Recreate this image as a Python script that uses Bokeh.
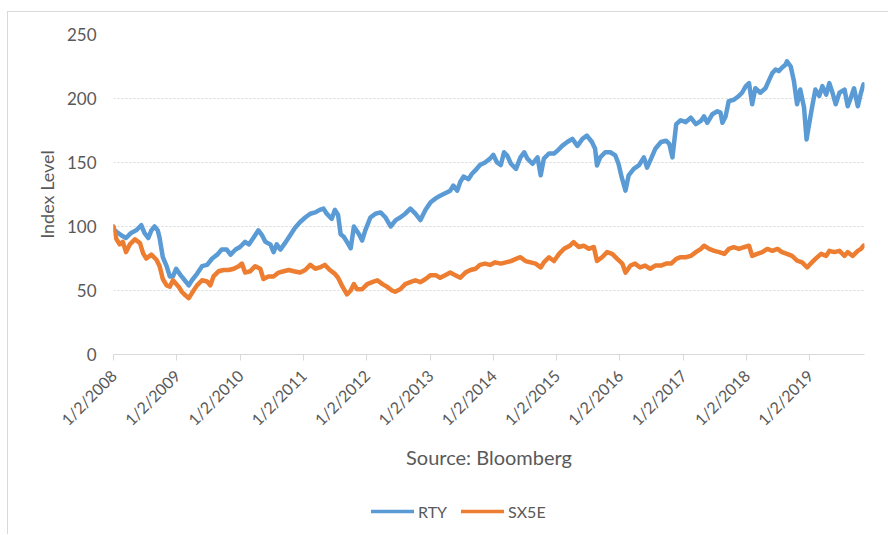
from datetime import datetime
from bokeh.plotting import figure
from bokeh.layouts import column
from bokeh.models import (Range1d, FixedTicker, CustomJSTickFormatter, Legend,
                          LegendItem, ColumnDataSource)
from bokeh.embed import file_html
from bokeh.resources import INLINE
import math

# ---- data (time as decimal year) ----
rty_t = [2008.00, 2008.02, 2008.13, 2008.20, 2008.28, 2008.36, 2008.44, 2008.49, 2008.55, 2008.60,
         2008.65, 2008.70, 2008.73, 2008.78, 2008.84, 2008.89, 2008.94, 2008.99, 2009.06, 2009.11,
         2009.19, 2009.24, 2009.32, 2009.40, 2009.48, 2009.56, 2009.64, 2009.71, 2009.79, 2009.85,
         2009.93, 2010.00, 2010.08, 2010.14, 2010.21, 2010.29, 2010.35, 2010.40, 2010.48, 2010.53,
         2010.58, 2010.64, 2010.71, 2010.79, 2010.87, 2010.95, 2011.03, 2011.11, 2011.19, 2011.26,
         2011.32, 2011.37, 2011.45, 2011.50, 2011.55, 2011.59, 2011.64, 2011.69, 2011.75, 2011.80,
         2011.88, 2011.93, 2011.98, 2012.06, 2012.14, 2012.22, 2012.30, 2012.38, 2012.46, 2012.53,
         2012.61, 2012.69, 2012.77, 2012.85, 2012.93, 2013.01, 2013.09, 2013.16, 2013.24, 2013.32,
         2013.37, 2013.43, 2013.48, 2013.53, 2013.61, 2013.66, 2013.72, 2013.79, 2013.87, 2013.95,
         2014.00, 2014.06, 2014.12, 2014.17, 2014.22, 2014.28, 2014.36, 2014.43, 2014.49, 2014.54,
         2014.62, 2014.70, 2014.75, 2014.80, 2014.88, 2014.96, 2015.01, 2015.09, 2015.17, 2015.25,
         2015.33, 2015.41, 2015.48, 2015.56, 2015.61, 2015.64, 2015.69, 2015.77, 2015.85, 2015.93,
         2015.98, 2016.03, 2016.09, 2016.14, 2016.22, 2016.30, 2016.38, 2016.43, 2016.48, 2016.56,
         2016.65, 2016.73, 2016.78, 2016.83, 2016.89, 2016.96, 2017.04, 2017.12, 2017.20, 2017.28,
         2017.33, 2017.38, 2017.46, 2017.54, 2017.59, 2017.62, 2017.67, 2017.72, 2017.80, 2017.88,
         2017.93, 2017.99, 2018.04, 2018.09, 2018.14, 2018.22, 2018.30, 2018.35, 2018.41, 2018.46,
         2018.51, 2018.56, 2018.62, 2018.64, 2018.70, 2018.75, 2018.80, 2018.85, 2018.91, 2018.95,
         2018.98, 2019.04, 2019.09, 2019.15, 2019.20, 2019.26, 2019.31, 2019.36, 2019.41, 2019.47,
         2019.55, 2019.60, 2019.65, 2019.70, 2019.76, 2019.81, 2019.85]
rty_v = [100, 97, 93, 91, 95, 97, 101, 95, 91, 97,
         100, 97, 91, 76, 69, 61, 61, 67, 62, 59,
         54, 58, 63, 69, 70, 75, 78, 82, 82, 78,
         82, 84, 88, 86, 91, 97, 93, 88, 86, 80,
         86, 82, 87, 93, 99, 103.5, 107, 110, 111, 113,
         114, 110, 106, 113, 109, 94, 92, 88, 83, 100,
         94, 89, 97, 107, 110, 111, 107, 100, 105, 107,
         110, 114, 110, 105, 113, 119, 122, 124, 126, 128,
         132, 128, 135, 139, 137, 141, 144, 148, 150, 153,
         156, 150, 148, 158, 155.5, 149, 145, 154, 158, 153,
         149, 154, 140, 153, 157, 157, 159, 163, 166, 168.5,
         163, 168.5, 171, 166, 160.7, 147.7, 154, 158, 158, 155.5,
         149, 138.5, 128, 140, 145, 147.7, 154, 146, 151.5, 160.7,
         166, 167, 164.6, 154, 180, 183, 181.5, 185, 180, 182.5,
         186, 181, 187.7, 190, 189, 181, 186, 198, 199, 202,
         204.5, 209.7, 212, 195.5, 208, 204.5, 208, 213.6, 220, 222.7,
         221.4, 224, 226.6, 229, 225, 213.6, 195.5, 207, 193, 168,
         177, 194, 207, 202, 209.7, 203, 212, 204.5, 195.5, 204.5,
         207, 194, 200.6, 208, 194, 204.5, 211]

sx5e_t = [2008.00, 2008.05, 2008.10, 2008.15, 2008.20, 2008.26, 2008.34, 2008.42, 2008.47, 2008.52,
          2008.60, 2008.68, 2008.73, 2008.78, 2008.84, 2008.89, 2008.94, 2009.03, 2009.08, 2009.14,
          2009.19, 2009.24, 2009.32, 2009.40, 2009.48, 2009.53, 2009.58, 2009.66, 2009.74, 2009.82,
          2009.90, 2009.98, 2010.03, 2010.08, 2010.16, 2010.24, 2010.32, 2010.37, 2010.45, 2010.53,
          2010.61, 2010.69, 2010.77, 2010.85, 2010.95, 2011.03, 2011.11, 2011.19, 2011.26, 2011.34,
          2011.42, 2011.50, 2011.55, 2011.62, 2011.69, 2011.75, 2011.80, 2011.85, 2011.93, 2012.01,
          2012.09, 2012.17, 2012.25, 2012.32, 2012.40, 2012.45, 2012.53, 2012.61, 2012.69, 2012.77,
          2012.85, 2012.93, 2013.01, 2013.09, 2013.16, 2013.24, 2013.32, 2013.40, 2013.48, 2013.56,
          2013.64, 2013.72, 2013.79, 2013.87, 2013.95, 2014.03, 2014.12, 2014.20, 2014.28, 2014.36,
          2014.43, 2014.51, 2014.59, 2014.67, 2014.75, 2014.80, 2014.88, 2014.96, 2015.04, 2015.12,
          2015.21, 2015.27, 2015.35, 2015.43, 2015.51, 2015.59, 2015.64, 2015.72, 2015.80, 2015.88,
          2015.96, 2016.04, 2016.09, 2016.17, 2016.24, 2016.32, 2016.40, 2016.48, 2016.56, 2016.65,
          2016.73, 2016.81, 2016.89, 2016.96, 2017.04, 2017.12, 2017.20, 2017.28, 2017.33, 2017.41,
          2017.49, 2017.57, 2017.65, 2017.72, 2017.80, 2017.88, 2017.96, 2018.04, 2018.09, 2018.17,
          2018.25, 2018.33, 2018.41, 2018.49, 2018.56, 2018.64, 2018.72, 2018.80, 2018.88, 2018.96,
          2019.01, 2019.09, 2019.18, 2019.26, 2019.31, 2019.39, 2019.47, 2019.55, 2019.60, 2019.68,
          2019.76, 2019.81, 2019.85]
sx5e_v = [100, 90, 86, 88, 80, 86, 90, 87, 79, 75,
          78, 74, 69, 59, 54, 53, 58, 53, 49, 46,
          44, 48, 54, 58, 57, 54, 61, 65, 66, 66,
          67, 69, 71, 64, 65, 69, 67, 59, 61, 61,
          64, 65, 66, 65, 64, 66, 70, 67, 68, 70,
          66, 63, 60, 53, 47, 50, 55, 51, 51, 55,
          56.5, 58, 55, 53, 50, 49, 51, 55, 56.5, 58,
          56.5, 59, 62, 62, 60, 62, 64, 62, 60, 64,
          66, 67, 70, 71, 70, 72, 71, 72, 73, 74.7,
          76, 73, 72, 71, 68, 72, 76, 73, 78.6, 82.6,
          85, 87.8, 84, 85, 82.6, 84, 73, 76, 80, 78.6,
          74.7, 71, 64, 69.5, 71, 68, 69.5, 67, 69.5, 69.5,
          71, 71, 74.7, 76, 76, 77, 80, 82.5, 85, 82.5,
          81, 80, 78.6, 82.5, 83.8, 82.5, 83.8, 85, 77, 78.6,
          80, 82.5, 81, 82.5, 80, 78.6, 77, 73.4, 72, 68,
          70.8, 74.7, 78.6, 77, 81, 80, 81, 77, 80, 77,
          81, 82.5, 85]

tick_years = [2008, 2009, 2010, 2011, 2012, 2013, 2014, 2015, 2016, 2017, 2018, 2019]
y_ticks = [0, 50, 100, 150, 200, 250]
series_names = ["RTY", "SX5E"]
series_colors = ["#5B9BD5", "#ED7D31"]


def to_dt(t):
    y = int(t)
    start = datetime(y, 1, 1)
    end = datetime(y + 1, 1, 1)
    return start + (end - start) * (t - y)


def ms(d):
    return (d - datetime(1970, 1, 1)).total_seconds() * 1000.0


FONT = "Lato"
GRAY = "#595959"
X0, X1 = datetime(2008, 1, 2), datetime(2019, 11, 13)

src_r = ColumnDataSource(dict(x=[to_dt(t) for t in rty_t], y=rty_v))
src_s = ColumnDataSource(dict(x=[to_dt(t) for t in sx5e_t], y=sx5e_v))

# ---------------- main chart ----------------
p = figure(width=880, height=482, x_axis_type="datetime",
           output_backend="svg", toolbar_location=None,
           min_border_left=105, min_border_right=24,
           min_border_top=22, min_border_bottom=140)
p.x_range = Range1d(X0, X1)
p.y_range = Range1d(0, 250)
p.outline_line_color = None
p.background_fill_color = "white"
p.border_fill_color = "white"

line_kw = dict(line_width=4.5, line_join="round", line_cap="round")
p.line("x", "y", source=src_r, line_color=series_colors[0], **line_kw)
p.line("x", "y", source=src_s, line_color=series_colors[1], **line_kw)

xa = p.xaxis[0]
xa.ticker = FixedTicker(ticks=[ms(datetime(y, 1, 2)) for y in tick_years], minor_ticks=[])
xa.formatter = CustomJSTickFormatter(code="""
const d = new Date(tick);
return (d.getUTCMonth()+1) + "/" + d.getUTCDate() + "/" + d.getUTCFullYear();
""")
xa.major_label_orientation = math.pi / 4
xa.axis_line_color = "#D9D9D9"
xa.major_tick_line_color = "#D9D9D9"
xa.major_tick_out = 6
xa.major_tick_in = 0
xa.major_label_standoff = 12
xa.major_label_text_font = FONT
xa.major_label_text_font_size = "16px"
xa.major_label_text_color = GRAY
xa.axis_label = "Source: Bloomberg"
xa.axis_label_text_font = FONT
xa.axis_label_text_font_size = "20px"
xa.axis_label_text_font_style = "normal"
xa.axis_label_text_color = GRAY
xa.axis_label_standoff = 6

ya = p.yaxis[0]
ya.ticker = FixedTicker(ticks=y_ticks, minor_ticks=[])
ya.axis_line_color = None
ya.major_tick_line_color = None
ya.minor_tick_line_color = None
ya.major_label_standoff = 11
ya.major_label_text_font = FONT
ya.major_label_text_font_size = "17px"
ya.major_label_text_color = GRAY
ya.axis_label = "Index Level"
ya.axis_label_text_font = FONT
ya.axis_label_text_font_size = "18px"
ya.axis_label_text_font_style = "normal"
ya.axis_label_text_color = GRAY
ya.axis_label_standoff = 6

p.xgrid.grid_line_color = None
p.ygrid.ticker = FixedTicker(ticks=y_ticks[1:])
p.ygrid.grid_line_color = "#D9D9D9"
p.ygrid.grid_line_dash = "2 2"
p.ygrid.grid_line_width = 1

# ---------------- legend strip (same series, ranges kept off-view) ----------------
q = figure(width=880, height=40, x_axis_type="datetime",
           output_backend="svg", toolbar_location=None,
           x_axis_location=None, y_axis_location=None,
           min_border=0, min_border_left=0, min_border_right=0,
           min_border_top=0, min_border_bottom=0)
q.x_range = Range1d(X0, X1)
q.y_range = Range1d(1000, 1001)
q.outline_line_color = None
q.grid.grid_line_color = None
q.background_fill_color = "white"
q.border_fill_color = "white"
leg_kw = dict(line_width=3.5, line_join="round", line_cap="round")
l1 = q.line("x", "y", source=src_r, line_color=series_colors[0], **leg_kw)
l2 = q.line("x", "y", source=src_s, line_color=series_colors[1], **leg_kw)

legend = Legend(items=[LegendItem(label=series_names[0], renderers=[l1]),
                       LegendItem(label=series_names[1], renderers=[l2])],
                orientation="horizontal", location=(258, 13),
                glyph_width=43, glyph_height=20, label_standoff=4, spacing=14,
                padding=0, margin=0, border_line_color=None,
                background_fill_alpha=0,
                label_text_font=FONT, label_text_font_size="16px",
                label_text_color=GRAY)
q.add_layout(legend, "center")

layout = column(p, q, spacing=0)
layout.styles = {"border-top": "1px solid #D9D9D9", "border-left": "1px solid #D9D9D9",
                 "margin-top": "11px", "margin-left": "7px"}

open("out.html", "w").write(file_html(layout, INLINE))
